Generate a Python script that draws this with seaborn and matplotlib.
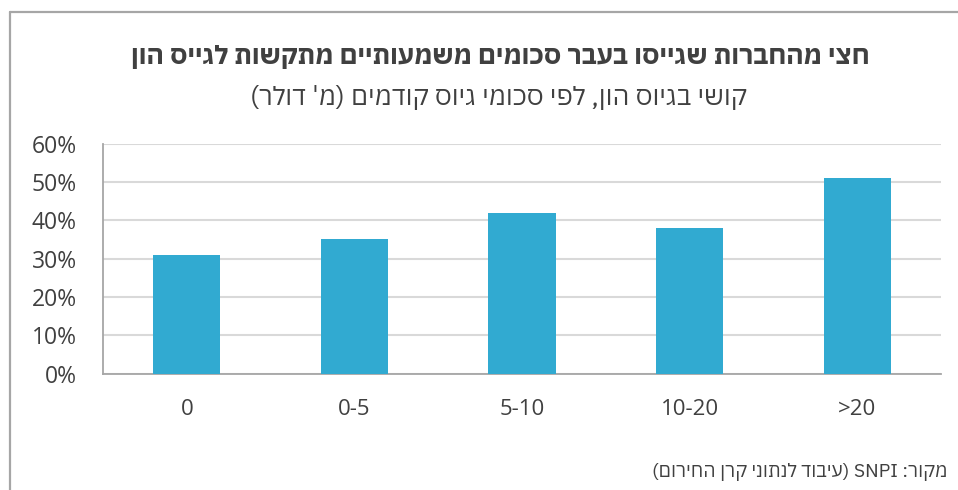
import matplotlib
matplotlib.use("Agg")
import matplotlib.pyplot as plt
from matplotlib.lines import Line2D
from matplotlib.ticker import FixedLocator, PercentFormatter
import numpy as np
import pandas as pd
import seaborn as sns

# Data: share of companies struggling to raise capital, by previous raise size (M$)
categories = ["0", "0-5", "5-10", "10-20", ">20"]
share = [31, 35, 42, 38, 51]
y_ticks = [0, 10, 20, 30, 40, 50, 60]

title = "חצי מהחברות שגייסו בעבר סכומים משמעותיים מתקשות לגייס הון"
subtitle = "קושי בגיוס הון, לפי סכומי גיוס קודמים (מ' דולר)"
source_he = "(עיבוד לנתוני קרן החירום)"
source_lbl = "מקור:"
source_org = "SNPI"


def rtl(s):
    """Return a Hebrew run in visual (left-to-right drawing) order."""
    mirror = {"(": ")", ")": "("}
    return "".join(mirror.get(c, c) for c in reversed(s))


BAR = "#31aad1"
TXT = "#404040"
AXIS = "#a6a6a6"
GRID = "#d9d9d9"
HEB = ["IBM Plex Sans Hebrew", "DejaVu Sans"]
NUM = ["Open Sans", "DejaVu Sans"]

sns.set_theme(style="white")
plt.rcParams["font.family"] = NUM

W, H = 958, 490
fig = plt.figure(figsize=(W / 100, H / 100), dpi=100)
fig.patch.set_facecolor("white")

left, right, top, bottom = 103, 941, 143.5, 373.5
ax = fig.add_axes([left / W, 1 - bottom / H, (right - left) / W, (bottom - top) / H])

df = pd.DataFrame({"range": categories, "share": share})
sns.barplot(data=df, x="range", y="share", color=BAR, saturation=1,
            width=0.4, ax=ax, zorder=3, edgecolor="none")

ax.set_xlim(-0.5, len(categories) - 0.5)
ax.set_ylim(0, 60)
ax.yaxis.set_major_locator(FixedLocator(y_ticks))
ax.yaxis.set_major_formatter(PercentFormatter(decimals=0))
ax.set_xlabel("")
ax.set_ylabel("")

# horizontal gridlines
ax.grid(axis="y", color=GRID, linewidth=1.5, zorder=0)
ax.grid(axis="x", visible=False)

for side in ("top", "right"):
    ax.spines[side].set_visible(False)
for side in ("left", "bottom"):
    ax.spines[side].set_color(AXIS)
    ax.spines[side].set_linewidth(1.3)

ax.tick_params(axis="y", which="major", direction="out", length=6, width=1.2,
               color=AXIS, labelsize=16.5, labelcolor=TXT, pad=13)
# category labels without ticks; ticks drawn at category boundaries
ax.tick_params(axis="x", which="major", length=0, labelsize=16,
               labelcolor=TXT, pad=18)
ax.xaxis.set_minor_locator(FixedLocator(np.arange(-0.5, len(categories), 1.0)))
ax.tick_params(axis="x", which="minor", direction="out", length=6, width=1.2,
               color=AXIS)
for lbl in ax.get_xticklabels() + ax.get_yticklabels():
    lbl.set_family(NUM)

# titles
fig.text(500 / W, 1 - 57 / H, rtl(title), ha="center", va="center",
         fontsize=19, fontweight="bold", color=TXT, family=HEB)
fig.text(498 / W, 1 - 97 / H, rtl(subtitle), ha="center", va="center",
         fontsize=19, color=TXT, family=HEB)

# source note
source = rtl(source_he) + " " + source_org + " " + rtl(source_lbl)
fig.text(948 / W, 1 - 472 / H, source, ha="right", va="center",
         fontsize=13.9, color=TXT, family=HEB)

# frame lines along the top and left edges
fig.add_artist(Line2D([10 / W, 1], [1 - 12 / H, 1 - 12 / H],
                      transform=fig.transFigure, color=AXIS, linewidth=1.6))
fig.add_artist(Line2D([10 / W, 10 / W], [1 - 12 / H, 0],
                      transform=fig.transFigure, color=AXIS, linewidth=1.6))

fig.savefig("out.png", dpi=100, facecolor="white")
